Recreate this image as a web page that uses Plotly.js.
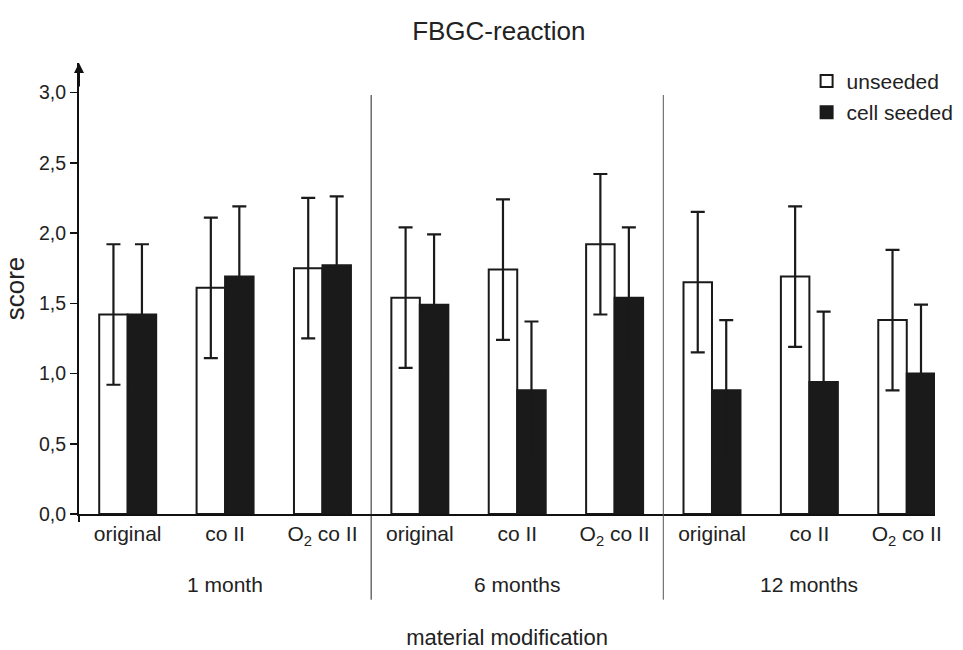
<!DOCTYPE html>
<html>
<head>
<meta charset="utf-8">
<script src="https://cdn.plot.ly/plotly-3.0.1.min.js"></script>
<style>html,body{margin:0;padding:0;background:#fff;}#chart{width:963px;height:650px;}</style>
</head>
<body>
<div id="chart"></div>
<script>
const categories = ["original", "co II", "O<sub>2</sub> co II", "original", "co II", "O<sub>2</sub> co II", "original", "co II", "O<sub>2</sub> co II"];
const groups = ["1 month", "6 months", "12 months"];
const unseeded = [1.42, 1.61, 1.75, 1.54, 1.74, 1.92, 1.65, 1.69, 1.38];
const unseededErr = [0.50, 0.50, 0.50, 0.50, 0.50, 0.50, 0.50, 0.50, 0.50];
const cellSeeded = [1.42, 1.69, 1.77, 1.49, 0.88, 1.54, 0.88, 0.94, 1.00];
const cellSeededErr = [0.50, 0.50, 0.49, 0.50, 0.49, 0.50, 0.50, 0.50, 0.49];
const yTicks = [0, 0.5, 1.0, 1.5, 2.0, 2.5, 3.0];

const xs = categories.map((_, i) => i);
const font = "Liberation Sans, Arial, Helvetica, sans-serif";

const traces = [
  {
    type: "bar", name: "unseeded", x: xs, y: unseeded,
    marker: {color: "#ffffff", line: {color: "#1a1a1a", width: 2}},
    error_y: {type: "data", array: unseededErr, visible: true, color: "#1a1a1a", thickness: 2.2, width: 7},
    legendgroup: "a"
  },
  {
    type: "bar", name: "cell seeded", x: xs, y: cellSeeded,
    marker: {color: "#1a1a1a", line: {color: "#1a1a1a", width: 2}},
    error_y: {type: "data", array: cellSeededErr, visible: true, color: "#1a1a1a", thickness: 2.2, width: 7},
    legendgroup: "b"
  }
];

const shapes = [
  {type: "line", xref: "x", yref: "paper", x0: 2.5, x1: 2.5, y0: -0.19, y1: 0.929, line: {color: "#222", width: 1}},
  {type: "line", xref: "x", yref: "paper", x0: 5.5, x1: 5.5, y0: -0.19, y1: 0.929, line: {color: "#555", width: 1}},
  {type: "line", xref: "paper", yref: "paper", x0: 0, x1: 0, y0: 0, y1: -0.018, line: {color: "#111", width: 2}}
];

const annotations = groups.map((g, i) => ({
  text: g, xref: "x", yref: "paper", x: i * 3 + 1, y: -0.157,
  showarrow: false, font: {family: font, size: 21, color: "#222"}, yanchor: "middle"
}));
annotations.push({
  text: "", xref: "paper", yref: "paper", x: 0, y: 1.0, ax: 0, ay: 25,
  showarrow: true, arrowhead: 2, arrowsize: 1, arrowwidth: 2, arrowcolor: "#111"
});

const layout = {
  width: 963, height: 650,
  paper_bgcolor: "#fff", plot_bgcolor: "#fff",
  margin: {l: 79, r: 28, t: 63, b: 136, autoexpand: false},
  separators: ",.",
  barmode: "group", bargap: 0.415, bargroupgap: 0,
  title: {text: "FBGC-reaction", font: {family: font, size: 26, color: "#222"}, x: 0.518, xanchor: "center", y: 0.953, yanchor: "middle"},
  xaxis: {
    range: [-0.5, 8.29], tickmode: "array", tickvals: xs, ticktext: categories,
    showgrid: false, zeroline: false, showline: true, linecolor: "#111", linewidth: 2,
    ticks: "", tickfont: {family: font, size: 21, color: "#222"},
    title: {text: "material modification", font: {family: font, size: 22, color: "#222"}, standoff: 84}
  },
  yaxis: {
    range: [0, 3.21], tickmode: "array", tickvals: yTicks, tickformat: ".1f",
    showgrid: false, zeroline: false, showline: true, linecolor: "#111", linewidth: 2,
    ticks: "outside", ticklen: 7, tickwidth: 1.5, tickcolor: "#111",
    tickfont: {family: font, size: 19.5, color: "#222"},
    title: {text: "score", font: {family: font, size: 26, color: "#222"}, standoff: 10}
  },
  legend: {
    x: 0.85, y: 1.005, xanchor: "left", yanchor: "top",
    font: {family: font, size: 21, color: "#222"}, bgcolor: "rgba(0,0,0,0)",
    itemwidth: 30, traceorder: "grouped", tracegroupgap: 1
  },
  shapes: shapes,
  annotations: annotations,
  showlegend: true
};

Plotly.newPlot("chart", traces, layout, {displayModeBar: false, staticPlot: true});
</script>
</body>
</html>
